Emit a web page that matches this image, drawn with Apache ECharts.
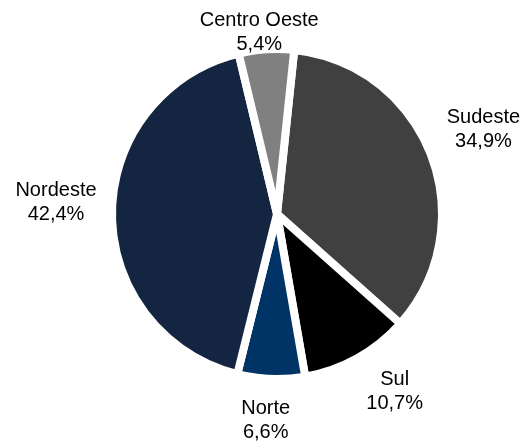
<!DOCTYPE html>
<html>
<head>
<meta charset="utf-8">
<script src="https://cdn.jsdelivr.net/npm/echarts@6/dist/echarts.min.js"></script>
<style>
  html, body { margin: 0; padding: 0; background: #fff; }
  #chart { width: 527px; height: 443px; }
</style>
</head>
<body>
<div id="chart"></div>
<script>
// regiões, no sentido horário a partir do topo
const regions = ['Sudeste', 'Sul', 'Norte', 'Nordeste', 'Centro Oeste']
const shares = [34.9, 10.7, 6.6, 42.4, 5.4]
const colors = ['#404040', '#000000', '#003366', '#142541', '#808080']
// distância do rótulo para fora da fatia e pequeno ajuste (px)
const labelGap = [50, 44, 40, 52, 16]
const labelDx = [2, 12, 0, 0, -2]
const labelDy = [-7, -5, 2, -11, -1]

const chart = echarts.init(document.getElementById('chart'))

chart.setOption({
  animation: false,
  backgroundColor: '#fff',
  series: [{
    type: 'pie',
    center: [277, 214],
    radius: 165,
    startAngle: 84,
    clockwise: true,
    avoidLabelOverlap: false,
    itemStyle: {
      borderColor: '#fff',
      borderWidth: 8
    },
    label: {
      show: true,
      position: 'outside',
      fontFamily: 'Liberation Sans, Arial, sans-serif',
      fontSize: 20,
      lineHeight: 24,
      color: '#000',
      distanceToLabelLine: 4,
      formatter: p => p.name + '\n' + p.value.toFixed(1).replace('.', ',') + '%'
    },
    labelLine: { show: false, length2: 0 },
    labelLayout: p => ({
      align: 'center',
      verticalAlign: 'middle',
      dx: labelDx[p.dataIndex],
      dy: labelDy[p.dataIndex]
    }),
    emphasis: { disabled: true },
    data: regions.map((name, i) => ({
      name: name,
      value: shares[i],
      itemStyle: { color: colors[i] },
      labelLine: { show: false, length: labelGap[i], length2: 0 }
    }))
  }]
})
</script>
</body>
</html>
